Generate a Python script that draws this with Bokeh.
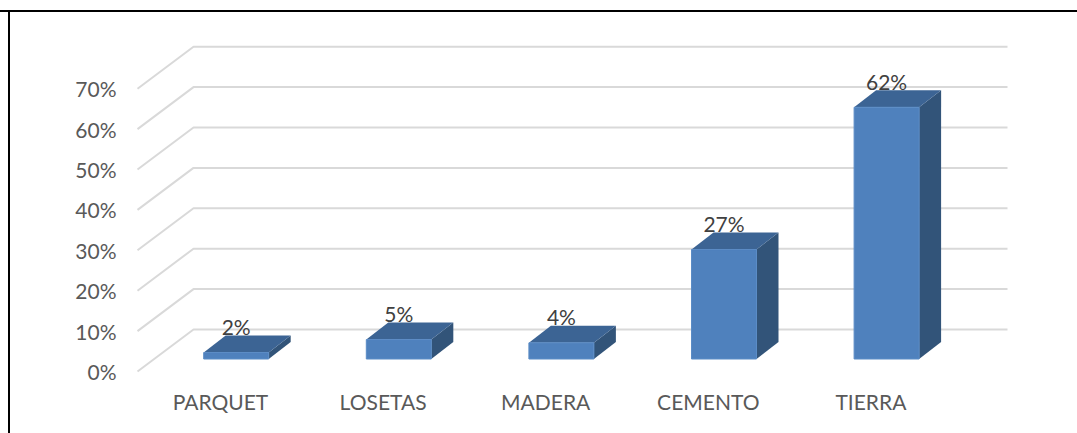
from bokeh.plotting import figure
from bokeh.models import FixedTicker, Range1d, ColumnDataSource
from bokeh.embed import file_html
from bokeh.resources import INLINE
from bokeh.core.properties import value

categories = ["PARQUET", "LOSETAS", "MADERA", "CEMENTO", "TIERRA"]
values = [1.6, 4.8, 4.0, 27.1, 62.3]
data_labels = ["2%", "5%", "4%", "27%", "62%"]
y_ticks = [0, 10, 20, 30, 40, 50, 60, 70]

FONT = "Lato"
PX_X = 162.6   # pixels per category
PX_Y = 4.04    # pixels per percent
X_START = -86 / PX_X
X_END = 792 / PX_X
WALL_LEFT = -83 / PX_X
WALL_BACK = -27 / PX_X
WALL_RIGHT = 787 / PX_X
WALL_RISE = 42 / PX_Y
BAR_SHIFT = 15.7 / PX_X
BAR_HALF = 32.5 / PX_X
BAR_BASE = 12.5 / PX_Y
DEPTH_X = 22 / PX_X
DEPTH_Y = 17 / PX_Y

p = figure(width=1077, height=433, output_backend="svg", toolbar_location=None,
           x_range=Range1d(X_START, X_END),
           y_range=Range1d(-3 / PX_Y, 331 / PX_Y),
           min_border_left=134, min_border_right=65, min_border_top=40, min_border_bottom=59,
           outline_line_color=None, background_fill_color="white", border_fill_color="white")
p.styles = {"background": "linear-gradient(black, black) 0 10px / 100% 2px no-repeat, "
                          "linear-gradient(black, black) 8px 10px / 2px 100% no-repeat"}
p.border_fill_alpha = 0
p.background_fill_alpha = 0
p.grid.visible = False

# walls
p.multi_line(xs=[[WALL_LEFT, WALL_BACK, WALL_RIGHT] for _ in y_ticks],
             ys=[[t, t + WALL_RISE, t + WALL_RISE] for t in y_ticks],
             line_color="#d9d9d9", line_width=2)

# bars
centers = [i + BAR_SHIFT for i in range(len(values))]
left = [c - BAR_HALF for c in centers]
right = [c + BAR_HALF for c in centers]
tops = [BAR_BASE + v for v in values]
p.patches(xs=[[r, r + DEPTH_X, r + DEPTH_X, r] for r in right],
          ys=[[BAR_BASE, BAR_BASE + DEPTH_Y, t + DEPTH_Y, t] for t in tops],
          fill_color="#325479", line_color=None)
p.patches(xs=[[l, r, r + DEPTH_X, l + DEPTH_X] for l, r in zip(left, right)],
          ys=[[t, t, t + DEPTH_Y, t + DEPTH_Y] for t in tops],
          fill_color="#3c6494", line_color=None)
p.quad(left=left, right=right, bottom=BAR_BASE, top=tops,
       fill_color="#4f81bd", line_color="#5b8cc6", line_width=1)

# data labels
src = ColumnDataSource(dict(x=centers, y=tops, t=data_labels))
p.text(x="x", y="y", text="t", source=src, y_offset=-26, text_align="center",
       text_baseline="middle", text_font=value(FONT), text_font_size="21px", text_color="#404040")

# axes
p.yaxis.ticker = FixedTicker(ticks=y_ticks)
p.yaxis.major_label_overrides = {t: f"{t}%" for t in y_ticks}
p.xaxis.ticker = FixedTicker(ticks=list(range(len(categories))))
p.xaxis.major_label_overrides = {i: c for i, c in enumerate(categories)}
for ax in (p.xaxis[0], p.yaxis[0]):
    ax.axis_line_color = None
    ax.major_tick_line_color = None
    ax.minor_tick_line_color = None
    ax.major_label_text_font = FONT
    ax.major_label_text_font_size = "21px"
    ax.major_label_text_color = "#595959"
p.yaxis[0].major_label_standoff = 12
p.xaxis[0].major_label_standoff = 8

open("out.html", "w").write(file_html(p, INLINE))
